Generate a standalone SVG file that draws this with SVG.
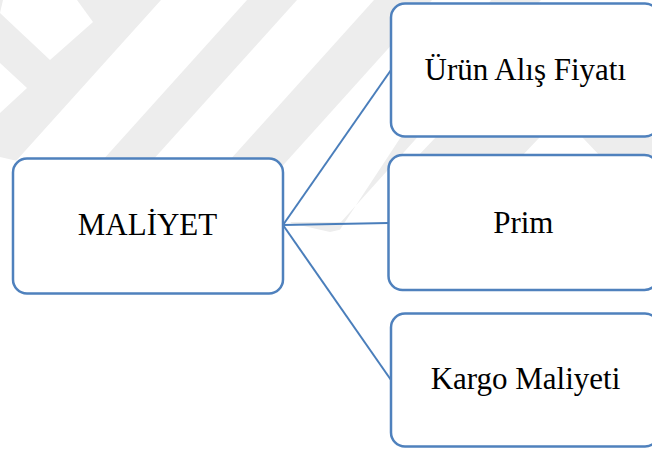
<svg xmlns="http://www.w3.org/2000/svg" width="652" height="450" viewBox="0 0 652 450">
  <defs>
    <style>
      .wm { fill: #ededed; stroke: none; }
      .box { fill: #ffffff; stroke: #4f81bd; stroke-width: 2.5; }
      .conn { fill: none; stroke: #4a7ebb; stroke-width: 2; }
      .lbl { font-family: "Liberation Serif", "Times New Roman", serif; font-size: 31px; fill: #000000; text-anchor: middle; }
    </style>
    <clipPath id="wmclip">
      <polygon points="0,0 652,0 652,158 330,232 0,157"/>
    </clipPath>
  </defs>
  <rect x="0" y="0" width="652" height="450" fill="#ffffff"/>
  <g id="watermark" clip-path="url(#wmclip)">
    <polygon class="wm" points="0,0 161,0 -20,201 0,201"/>
    <polygon fill="#ffffff" points="3,0 77,0 93,22 50,60 0,13"/>
    <polygon fill="#ffffff" points="0,63 27,88 0,113"/>
    <polygon class="wm" points="247,0 297,0 97,222 47,222"/>
    <polygon class="wm" points="374,0 432,0 232,222 174,222"/>
    <polygon class="wm" points="491,0 541,0 341,222 291,222 270,260 320,260"/>
    <polygon class="wm" points="436,137 540,137 520,158 416,158"/>
    <polygon class="wm" points="582,137 652,137 652,158 602,158"/>
  </g>
  <g id="connectors">
    <line class="conn" x1="283" y1="225" x2="391" y2="70"/>
    <line class="conn" x1="283" y1="225" x2="388.5" y2="223"/>
    <line class="conn" x1="283" y1="225" x2="391" y2="380"/>
  </g>
  <g id="node-maliyet">
    <rect class="box" x="13" y="158.5" width="270" height="135" rx="14" ry="14"/>
    <text class="lbl" x="147.5" y="235">MALİYET</text>
  </g>
  <g id="node-urun-alis-fiyati">
    <rect class="box" x="391" y="3.5" width="268" height="133" rx="14" ry="14"/>
    <text class="lbl" x="525.3" y="80">Ürün Alış Fiyatı</text>
  </g>
  <g id="node-prim">
    <rect class="box" x="388.5" y="155" width="270" height="135" rx="14" ry="14"/>
    <text class="lbl" x="523.3" y="232.7">Prim</text>
  </g>
  <g id="node-kargo-maliyeti">
    <rect class="box" x="391" y="313.5" width="268" height="133" rx="14" ry="14"/>
    <text class="lbl" x="525.5" y="389.3">Kargo Maliyeti</text>
  </g>
</svg>
